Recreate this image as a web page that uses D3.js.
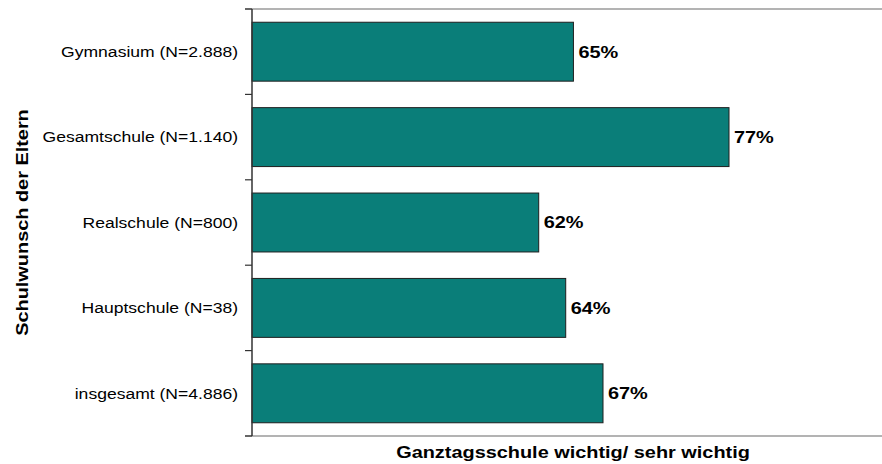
<!DOCTYPE html>
<html>
<head>
<meta charset="utf-8">
<script src="https://cdn.jsdelivr.net/npm/d3@7"></script>
<style>
  body { margin: 0; background: #fff; }
  svg { display: block; }
  text { font-family: "Liberation Sans", Arial, sans-serif; fill: #000; }
</style>
</head>
<body>
<svg width="882" height="464"></svg>
<script>
// data
let categories = ["Gymnasium (N=2.888)", "Gesamtschule (N=1.140)", "Realschule (N=800)", "Hauptschule (N=38)", "insgesamt (N=4.886)"];
let values = [65.0, 77.1, 62.3, 64.4, 67.3];
let xTitle = "Ganztagsschule wichtig/ sehr wichtig";
let yTitle = "Schulwunsch der Eltern";

let w = 882;
let h = 464;
let pLeft = 252;
let pTop = 9;
let pBottom = 436;
let stretch = 1.17;

let svg = d3.select("svg");
let fmt = d3.format(".0f");

let xScale = d3.scaleLinear()
                .domain([40, 89])
                .range([pLeft, w]);

let yScale = d3.scaleBand()
                .domain(categories)
                .range([pTop, pBottom])
                .paddingInner(0.31)
                .paddingOuter(0.155);

let step = yScale.step();

// light frame lines top and bottom
svg.selectAll("line.frame")
    .data([pTop, pBottom])
    .enter()
    .append("line")
    .attr("class", "frame")
    .attr("x1", pLeft - 7)
    .attr("x2", w)
    .attr("y1", (d) => d)
    .attr("y2", (d) => d)
    .attr("stroke", "#b3b3b3")
    .attr("stroke-width", 2);

// bars
svg.selectAll("rect")
    .data(categories)
    .enter()
    .append("rect")
    .attr("x", xScale(40))
    .attr("y", (d) => yScale(d))
    .attr("width", (d, i) => xScale(values[i]) - xScale(40))
    .attr("height", yScale.bandwidth())
    .attr("fill", "#0a7e79")
    .attr("stroke", "#1e1e1e")
    .attr("stroke-width", 1);

// axis line + ticks at category borders
let borders = categories.map((d) => yScale(d) - step * yScale.paddingInner() / 2);
borders[0] = pTop;
borders.push(pBottom);

svg.append("line")
    .attr("x1", pLeft).attr("x2", pLeft)
    .attr("y1", pTop).attr("y2", pBottom)
    .attr("stroke", "#333")
    .attr("stroke-width", 1.5);

svg.selectAll("line.tick")
    .data(borders)
    .enter()
    .append("line")
    .attr("class", "tick")
    .attr("x1", pLeft - 7).attr("x2", pLeft)
    .attr("y1", (d) => d).attr("y2", (d) => d)
    .attr("stroke", "#333")
    .attr("stroke-width", 1.2);

// category labels
svg.selectAll("text.cat")
    .data(categories)
    .enter()
    .append("text")
    .attr("class", "cat")
    .attr("text-anchor", "end")
    .attr("dy", "0.35em")
    .style("font-size", "15px")
    .attr("transform", (d) => "translate(238," + (yScale(d) + yScale.bandwidth() / 2) + ") scale(" + stretch + ",1)")
    .text((d) => d);

// value labels
svg.selectAll("text.val")
    .data(categories)
    .enter()
    .append("text")
    .attr("class", "val")
    .attr("dy", "0.35em")
    .style("font-size", "17px")
    .style("font-weight", "bold")
    .attr("transform", (d, i) => "translate(" + (xScale(values[i]) + 5) + "," + (yScale(d) + yScale.bandwidth() / 2) + ") scale(" + stretch + ",1)")
    .text((d, i) => fmt(values[i]) + "%");

// axis titles
svg.append("text")
    .attr("text-anchor", "middle")
    .style("font-size", "17px")
    .style("font-weight", "bold")
    .attr("transform", "translate(573,458) scale(" + stretch + ",1)")
    .text(xTitle);

svg.append("text")
    .attr("text-anchor", "middle")
    .style("font-size", "17px")
    .style("font-weight", "bold")
    .attr("transform", "translate(28," + ((pTop + pBottom) / 2) + ") rotate(-90) scale(" + stretch + ",1)")
    .text(yTitle);
</script>
</body>
</html>
